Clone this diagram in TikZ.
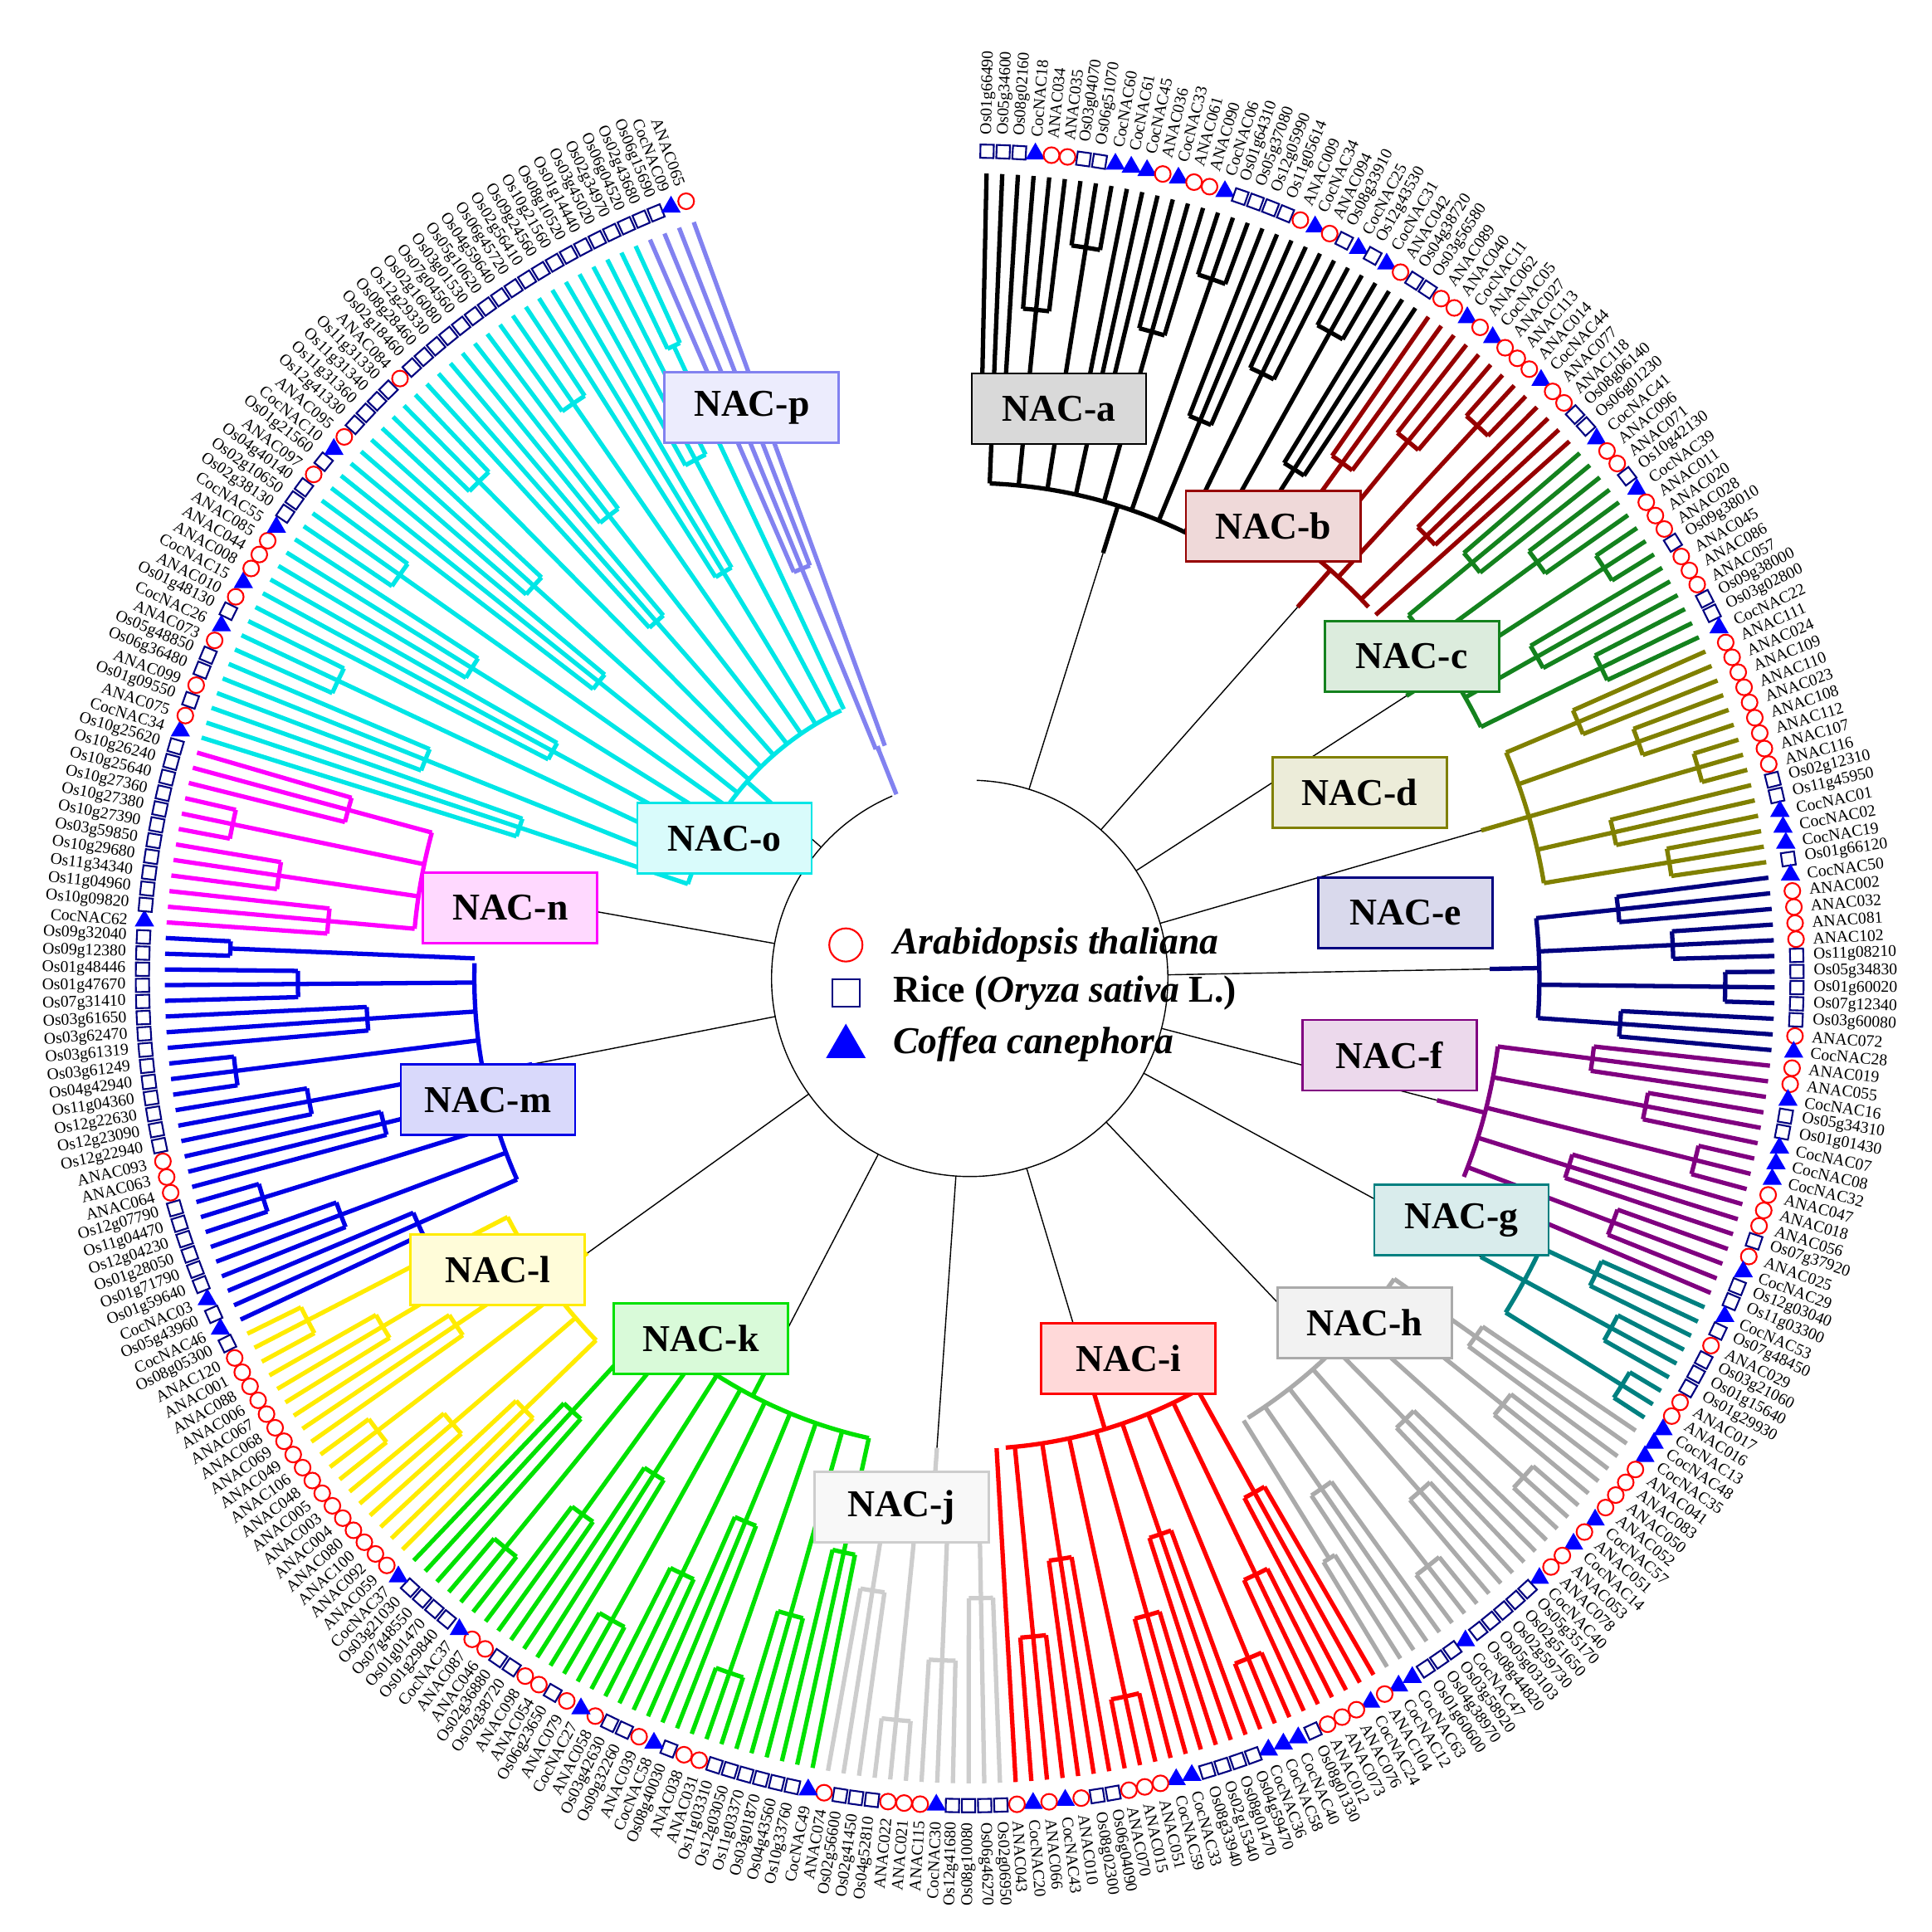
\documentclass[tikz,border=0pt]{standalone}
\usepackage{fontspec}
\setmainfont{Liberation Serif}
\usepackage{xstring}
\usetikzlibrary{shapes.geometric}

\definecolor{cA}{RGB}{0,0,0}
\definecolor{cB}{RGB}{150,0,0}
\definecolor{cC}{RGB}{20,130,30}
\definecolor{cD}{RGB}{128,128,0}
\definecolor{cE}{RGB}{0,0,128}
\definecolor{cF}{RGB}{128,0,128}
\definecolor{cG}{RGB}{0,128,128}
\definecolor{cH}{RGB}{170,170,170}
\definecolor{cI}{RGB}{255,0,0}
\definecolor{cJ}{RGB}{205,205,205}
\definecolor{cK}{RGB}{0,225,0}
\definecolor{cL}{RGB}{255,235,0}
\definecolor{cM}{RGB}{0,0,230}
\definecolor{cN}{RGB}{255,0,255}
\definecolor{cO}{RGB}{0,230,230}
\definecolor{cP}{RGB}{130,130,240}

\newcount\leafidx
\def\topang{88.8}
\def\lstep{1.118}

% one clade: colour, clade radius, id, leaves
\newcommand\clade[4]{%
  \foreach \nm [count=\k] in {#4} {\xdef\nn{\k}}%
  \pgfmathsetmacro\cstart{\topang-\the\leafidx*\lstep}%
  \foreach \nm [count=\i] in {#4} {%
    \pgfmathsetmacro\a{\topang-(\the\leafidx+\i-1)*\lstep}%
    \pgfmathtruncatemacro\g{mod(floor((\i-1)/3),3)}%
    \pgfmathsetmacro\rg{#2+(650-#2)*(0.35+0.22*\g)}%
    \draw[cl,#1] (\a:\rg) -- (\a:650);
    \pgfmathtruncatemacro\isfirst{mod(\i-1,3)==0}%
    \ifnum\isfirst=1
      \pgfmathtruncatemacro\j{min(\i+2,\nn)}%
      \pgfmathsetmacro\b{\topang-(\the\leafidx+\j-1)*\lstep}%
      \pgfmathsetmacro\m{(\a+\b)/2}%
      \draw[cl,#1] (\a:\rg) arc[start angle=\a,end angle=\b,radius=\rg];
      \draw[cl,#1] (\m:#2) -- (\m:\rg);
    \fi
    \IfBeginWith{\nm}{ANAC}{\node[athal] (#3m\i) at (\a:668) {};}%
      {\IfBeginWith{\nm}{Os}{\node[rice,rotate=\a] (#3m\i) at (\a:668) {};}%
        {\node[coff] (#3m\i) at (\a:668) {};}}%
    \ifdim\a pt<-90pt
      \node[lbl,anchor=east,rotate=\a+180] (#3t\i) at (\a:680) {\nm};
    \else
      \node[lbl,anchor=west,rotate=\a] (#3t\i) at (\a:680) {\nm};
    \fi
  }%
  \pgfmathsetmacro\cend{\topang-(\the\leafidx+\nn-1)*\lstep}%
  \global\advance\leafidx by \nn
  \pgfmathsetmacro\ca{\cstart-\lstep}%
  \pgfmathsetmacro\cb{\cend+\lstep}%
  \draw[cl,#1] (\ca:#2) arc[start angle=\ca,end angle=\cb,radius=#2];
  \pgfmathsetmacro\cmid{(\cstart+\cend)/2}%
  \pgfmathsetmacro\rin{#2-40}%
  \draw[cl,#1] (\cmid:#2) -- (\cmid:\rin);
  \draw[inner] (\cmid:\rin) -- (\cmid:160);
}

\begin{document}
\begin{tikzpicture}[x=0.01492cm,y=0.01492cm,
    cl/.style={line width=1.5pt},
    inner/.style={black,line width=0.4pt},
    lbl/.style={font=\fontsize{5.6}{5.6}\selectfont,inner sep=0.5pt},
    athal/.style={circle,draw=red,fill=white,line width=0.6pt,minimum size=0.19cm,inner sep=0},
    rice/.style={rectangle,draw=cE,fill=white,line width=0.6pt,minimum size=0.16cm,inner sep=0},
    coff/.style={regular polygon,regular polygon sides=3,fill=blue,inner sep=0,minimum size=0.27cm},
    cbox/.style={draw=#1,fill=#1!15,line width=0.8pt,font=\bfseries\fontsize{13}{13}\selectfont,
      minimum width=2.1cm,minimum height=0.85cm}]
  \useasboundingbox (-783,-770) rectangle (777,790);

  \draw[inner] (88:160) arc[start angle=88,end angle=-247,radius=160];

  \clade{cA}{400}{a}{Os01g66490,Os05g34600,Os08g02160,CocNAC18,ANAC034,ANAC035,Os03g04070,Os06g51070,CocNAC60,CocNAC61,CocNAC45,ANAC036,CocNAC33,ANAC061,ANAC090,CocNAC06,Os01g64310,Os05g37080,Os12g05990,Os11g05614,ANAC009,CocNAC34,ANAC094,Os08g33910,CocNAC25,Os12g43530,CocNAC31,ANAC042,Os04g38720,Os03g56580}
  \clade{cB}{440}{b}{ANAC089,ANAC040,CocNAC11,ANAC062,CocNAC05,ANAC027,ANAC113,ANAC014,CocNAC44,ANAC077,ANAC118,Os08g06140,Os06g01230}
  \clade{cC}{460}{c}{CocNAC41,ANAC096,ANAC071,Os10g42130,CocNAC39,ANAC011,ANAC020,ANAC028,Os09g38010,ANAC045,ANAC086,ANAC057,Os09g38000,Os03g02800,CocNAC22}
  \clade{cD}{470}{d}{ANAC111,ANAC024,ANAC109,ANAC110,ANAC023,ANAC108,ANAC112,ANAC107,ANAC116,Os02g12310,Os11g45950,CocNAC01,CocNAC02,CocNAC19,Os01g66120}
  \clade{cE}{460}{e}{CocNAC50,ANAC002,ANAC032,ANAC081,ANAC102,Os11g08210,Os05g34830,Os01g60020,Os07g12340,Os03g60080,ANAC072,CocNAC28}
  \clade{cF}{430}{f}{ANAC019,ANAC055,CocNAC16,Os05g34310,Os01g01430,CocNAC07,CocNAC08,CocNAC32,ANAC047,ANAC018,ANAC056,Os07g37920,ANAC025,CocNAC29,Os12g03040,Os11g03300}
  \clade{cG}{510}{g}{CocNAC53,Os07g48450,ANAC029,Os03g21060,Os01g15640,Os01g29930,ANAC017,ANAC016,CocNAC13}
  \clade{cH}{420}{h}{CocNAC48,CocNAC35,ANAC041,ANAC083,ANAC050,ANAC052,CocNAC57,ANAC051,CocNAC14,ANAC053,ANAC078,CocNAC40,Os05g35170,Os02g51650,Os02g59730,Os05g03103,Os08g44820,CocNAC47,Os03g58920,Os04g38970,Os01g60600,CocNAC63,CocNAC12}
  \clade{cI}{380}{i}{ANAC104,CocNAC24,ANAC076,ANAC073,ANAC012,Os08g01330,CocNAC40,CocNAC58,CocNAC36,Os04g59470,Os08g01470,Os02g15340,Os08g33940,CocNAC33,CocNAC59,ANAC051,ANAC015,ANAC070,Os06g04090,Os08g02300,ANAC010,CocNAC43,ANAC066,CocNAC20,ANAC043}
  \clade{cJ}{420}{j}{Os02g06950,Os06g46270,Os08g10080,Os12g41680,CocNAC30,ANAC115,ANAC021,ANAC022,Os04g52810,Os02g41450,Os02g56600,ANAC074}
  \clade{cK}{380}{k}{CocNAC49,Os10g33760,Os04g43560,Os03g01870,Os11g03370,Os12g03050,Os11g03310,ANAC031,ANAC038,Os08g40030,CocNAC58,ANAC039,Os09g32260,Os03g42630,ANAC058,CocNAC27,ANAC079,Os06g23650,ANAC054,ANAC098,Os02g38720,Os02g36880,ANAC046,ANAC087,CocNAC37,Os01g29840,Os01g01470,Os07g48550,Os03g21030,CocNAC37}
  \clade{cL}{420}{l}{ANAC059,ANAC092,ANAC100,ANAC080,ANAC004,ANAC003,ANAC005,ANAC048,ANAC106,ANAC049,ANAC069,ANAC068,ANAC067,ANAC006,ANAC088,ANAC001,ANAC120,Os08g05300}
  \clade{cM}{400}{m}{CocNAC46,Os05g43960,CocNAC03,Os01g59640,Os01g71790,Os01g28050,Os12g04230,Os11g04470,Os12g07790,ANAC064,ANAC063,ANAC093,Os12g22940,Os12g23090,Os12g22630,Os11g04360,Os04g42940,Os03g61249,Os03g61319,Os03g62470,Os03g61650,Os07g31410,Os01g47670,Os01g48446,Os09g12380,Os09g32040}
  \clade{cN}{450}{n}{CocNAC62,Os10g09820,Os11g04960,Os11g34340,Os10g29680,Os03g59850,Os10g27390,Os10g27380,Os10g27360,Os10g25640,Os10g26240,Os10g25620}
  \clade{cO}{240}{o}{CocNAC34,ANAC075,Os01g09550,ANAC099,Os06g36480,Os05g48850,ANAC073,CocNAC26,Os01g48130,ANAC010,CocNAC15,ANAC008,ANAC044,ANAC085,CocNAC55,Os02g38130,Os02g10650,Os04g40140,ANAC097,Os01g21560,CocNAC10,ANAC095,Os12g41330,Os11g31360,Os11g31340,Os11g31330,ANAC084,Os02g18460,Os08g28460,Os12g29330,Os02g16080,Os07g04560,Os03g01530,Os05g10620,Os04g59640,Os06g45720,Os02g56410,Os09g24560,Os10g21560,Os08g10520,Os01g14440,Os03g45020,Os02g34970,Os06g04520}
  \clade{cP}{200}{p}{Os02g43680,Os06g15690,CocNAC09,ANAC065}

  % clade labels
  \node[cbox=cA] (boxa) at (72,460) {NAC-a};
  \node[cbox=cB] (boxb) at (245,365) {NAC-b};
  \node[cbox=cC] (boxc) at (357,260) {NAC-c};
  \node[cbox=cD] (boxd) at (315,150) {NAC-d};
  \node[cbox=cE] (boxe) at (352,53) {NAC-e};
  \node[cbox=cF] (boxf) at (339,-62) {NAC-f};
  \node[cbox=cG] (boxg) at (397,-195) {NAC-g};
  \node[cbox=cH] (boxh) at (319,-278) {NAC-h};
  \node[cbox=cI] (boxi) at (128,-307) {NAC-i};
  \node[cbox=cJ] (boxj) at (-55,-427) {NAC-j};
  \node[cbox=cK] (boxk) at (-217,-291) {NAC-k};
  \node[cbox=cL] (boxl) at (-381,-235) {NAC-l};
  \node[cbox=cM] (boxm) at (-389,-98) {NAC-m};
  \node[cbox=cN] (boxn) at (-371,57) {NAC-n};
  \node[cbox=cO] (boxo) at (-198,113) {NAC-o};
  \node[cbox=cP] (boxp) at (-176,461) {NAC-p};

  % legend
  \node[athal,minimum size=0.4cm] (lgat) at (-100,27) {};
  \node[rice,minimum size=0.33cm] (lgos) at (-100,-12) {};
  \node[coff,minimum size=0.55cm] (lgcc) at (-100,-55) {};
  \node[anchor=west,font=\bfseries\itshape\fontsize{13}{13}\selectfont] (lgatt) at (-70,27) {Arabidopsis thaliana};
  \node[anchor=west,font=\bfseries\fontsize{13}{13}\selectfont] (lgost) at (-70,-12) {Rice (\textit{Oryza sativa} L.)};
  \node[anchor=west,font=\bfseries\itshape\fontsize{13}{13}\selectfont] (lgcct) at (-70,-53) {Coffea canephora};
\end{tikzpicture}
\end{document}
